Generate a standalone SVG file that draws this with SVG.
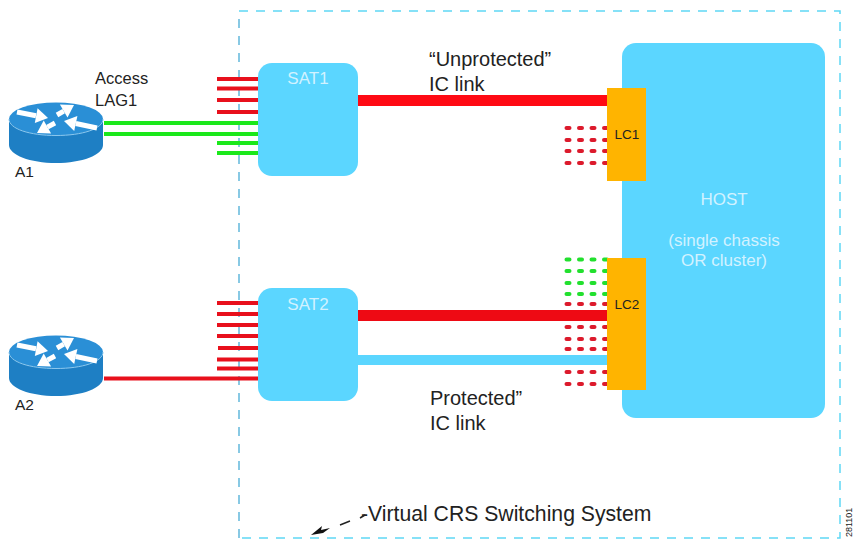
<svg xmlns="http://www.w3.org/2000/svg" width="854" height="539" viewBox="0 0 854 539">
<style>
text{font-family:"Liberation Sans",Arial,sans-serif;fill:#222}
.w{fill:#d2f2ff;font-size:17px;text-anchor:middle}
.big{font-size:20px}
.blue{fill:#5bd6ff}
.lc{fill:#ffb400}
.red{stroke:#e8101c;stroke-width:4;fill:none}
.grn{stroke:#1be81b;stroke-width:4;fill:none}
.dr{stroke:#dc1a2c;stroke-width:4;stroke-dasharray:3 9.500;stroke-linecap:round;fill:none}
.dg{stroke:#22e02e;stroke-width:4;stroke-dasharray:3 9.500;stroke-linecap:round;fill:none}
.arr{fill:#fff;stroke:none}
.shaft{stroke:#fff;stroke-width:5;fill:none}
</style>
<defs>
<g id="router">
<path d="M-47 0V26C-47 36-26 44 0 44S47 36 47 26V0Z" fill="#1e7fc4"/>
<ellipse cx="0" cy="0" rx="47" ry="16.500" fill="#2a8fd6"/>
<path d="M-47 0C-47 10-26 16.500 0 16.500S47 10 47 0" fill="none" stroke="#8cc8ee" stroke-width="1"/>
<path class="shaft" d="M-39-7L-20-3.300M1-4L7.700-7.900M-1 4L-8.600 8.100M41 9L19.800 4.500"/>
<path class="arr" d="M-8-1L-18.400-10.700-21.200 4.100Z"/>
<path class="arr" d="M18-14L11.500-1.400 3.900-14.400Z"/>
<path class="arr" d="M-19 14L-4.900 14.600-12.300 1.600Z"/>
<path class="arr" d="M8 2L21.400-2.900 18.200 11.900Z"/>
</g>
</defs>

<path d="M239 538V11" fill="none" stroke="#62b8dc" stroke-width="1.500" stroke-dasharray="9 8"/>
<path d="M239 11H840V538H239" fill="none" stroke="#5fd8f5" stroke-width="1.500" stroke-dasharray="9 8"/>

<g id="connectors">
<path class="red" d="M217 79H259M217 88.500H259M217 100H259M217 112H259"/>
<path class="grn" d="M104 123H259M104 134H259M217 143H259M217 153H259"/>
<path class="red" d="M217 303H259M217 314H259M217 325H259M217 336H259M218 348H259M217 359.500H259M217 368.500H259M104 378.500H259"/>
<path d="M358 100.500H608" stroke="#ff0a14" stroke-width="11" fill="none"/>
<path d="M358 315.500H608" stroke="#ee0a14" stroke-width="11" fill="none"/>
<path d="M358 360H608" stroke="#5bd6ff" stroke-width="10" fill="none"/>
<path class="dr" d="M566.500 128H609M566.500 140H609M566.500 151H609M566.500 163H609"/>
<path class="dg" d="M566.500 259.500H609M566.500 271H609M566.500 283H609M566.500 294H609"/>
<path class="dr" d="M566.500 304H609M566.500 327H609M566.500 339H609M566.500 349H609M566.500 372H609M566.500 384H609"/>
<path d="M340 525L350 521M360 518L365 515" stroke="#222" stroke-width="1.500" fill="none"/>
<path d="M311 535L322 526 321 530 330 528 323 533Z" fill="#111"/>
</g>

<g id="A1"><use href="#router" x="56" y="119"/><text x="15" y="177" font-size="15.500">A1</text></g>
<g id="A2"><use href="#router" x="56" y="352"/><text x="15" y="410" font-size="15.500">A2</text></g>
<text x="95" y="84" font-size="16.500">Access</text>
<text x="95" y="106" font-size="16.500">LAG1</text>

<g id="SAT1"><rect class="blue" x="258" y="63" width="100" height="113" rx="14"/><text class="w" x="308" y="84">SAT1</text></g>
<g id="SAT2"><rect class="blue" x="258" y="288" width="100" height="113" rx="14"/><text class="w" x="308" y="310">SAT2</text></g>

<g id="HOST"><rect class="blue" x="622" y="43" width="203" height="375" rx="14"/>
<text class="w" x="724" y="205">HOST</text>
<text class="w" x="724" y="246">(single chassis</text>
<text class="w" x="724" y="266">OR cluster)</text></g>

<g id="LC1"><rect class="lc" x="607" y="88" width="39" height="93"/><text x="627" y="139" font-size="13.500" text-anchor="middle">LC1</text></g>
<g id="LC2"><rect class="lc" x="607" y="258" width="39" height="132"/><text x="627" y="309" font-size="13.500" text-anchor="middle">LC2</text></g>

<text class="big" x="429" y="66">“Unprotected”</text>
<text class="big" x="429" y="91">IC link</text>
<text class="big" x="430" y="405">Protected”</text>
<text class="big" x="430" y="430">IC link</text>
<text x="361" y="521" font-size="21.200">-Virtual CRS Switching System</text>
<text transform="translate(852 537) rotate(-90)" font-size="9">281101</text>
</svg>
